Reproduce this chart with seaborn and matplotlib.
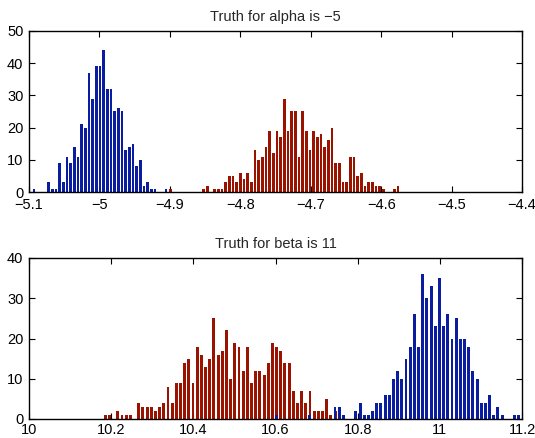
import numpy as np
import pandas as pd
import matplotlib
matplotlib.use("Agg")
import matplotlib.pyplot as plt
import seaborn as sns

# ---------------- data (counts per bin) ----------------
# alpha panel
alpha_blue_counts = [1, 0, 0, 0, 3, 1, 1, 9, 3, 11, 9, 14, 11, 21, 20, 37, 29, 39, 39, 44,
                     32, 32, 25, 26, 25, 13, 14, 15, 8, 10, 2, 3, 1, 1, 0, 0, 1]
alpha_red_counts = [1, 0, 0, 0, 0, 0, 0, 0, 0, 1, 2, 0, 1, 1, 1, 3, 5, 5, 3, 6, 4, 6, 3,
                    13, 10, 11, 14, 19, 12, 19, 17, 29, 19, 25, 25, 11, 25, 19, 13, 19, 17,
                    18, 14, 16, 20, 9, 9, 3, 3, 11, 11, 5, 6, 2, 3, 3, 2, 2, 1, 0, 0, 1, 2]
alpha_blue_start = -5.0929   # centre of first bin
alpha_red_start = -4.8988
alpha_bin_width = 0.005207

# beta panel
beta_blue_counts = [1, 0, 0, 0, 0, 0, 0, 0, 1, 0, 0, 0, 0, 0,
                    3, 3, 1, 0, 0, 2, 4, 1, 1, 2, 4, 4, 6, 6, 10, 12, 10, 15, 18, 26, 18,
                    36, 30, 33, 23, 35, 23, 26, 20, 25, 20, 20, 18, 12, 10, 4, 4, 6, 1, 3,
                    1, 0, 0, 1, 1]
beta_red_counts = [1, 1, 0, 2, 1, 1, 1, 0, 4, 3, 3, 3, 2, 3, 4, 8, 4, 9, 9, 14, 15, 9, 18,
                   16, 13, 15, 25, 16, 17, 22, 10, 19, 18, 12, 18, 9, 12, 12, 11, 14, 19,
                   18, 17, 14, 14, 7, 4, 7, 4, 7, 2, 2, 2, 5, 1, 2, 0, 0, 0, 0, 1]
beta_blue_start = 10.6024
beta_red_start = 10.1857
beta_bin_width = 0.01017

alpha_ticks = [-5.1, -5.0, -4.9, -4.8, -4.7, -4.6, -4.5, -4.4]
alpha_ticklabels = ["\u22125.1", "\u22125", "\u22124.9", "\u22124.8", "\u22124.7",
                    "\u22124.6", "\u22124.5", "\u22124.4"]
alpha_yticks = [0, 10, 20, 30, 40, 50]
beta_ticks = [10.0, 10.2, 10.4, 10.6, 10.8, 11.0, 11.2]
beta_ticklabels = ["10", "10.2", "10.4", "10.6", "10.8", "11", "11.2"]
beta_yticks = [0, 10, 20, 30, 40]

titles = ["Truth for alpha is \u22125", "Truth for beta is 11"]

BLUE = "#0a1ca0"
RED = "#9a1200"

# ---------------- style ----------------
sns.set_style("ticks")
plt.rcParams["font.family"] = ["Liberation Sans", "DejaVu Sans"]
plt.rcParams.update({
    "xtick.direction": "in", "ytick.direction": "in",
    "xtick.top": True, "ytick.right": True,
    "xtick.major.size": 4, "ytick.major.size": 4,
    "xtick.major.width": 0.8, "ytick.major.width": 0.8,
    "axes.linewidth": 1.0, "axes.edgecolor": "black",
    "xtick.color": "black", "ytick.color": "black",
})

W, H = 535, 438
fig = plt.figure(figsize=(W / 100, H / 100), dpi=100)
ax1 = fig.add_axes([29 / W, 1 - 192 / H, 493 / W, 161 / H])
ax2 = fig.add_axes([29 / W, 1 - 419 / H, 493 / W, 161 / H])


def hist_from_counts(ax, counts, start, width, color):
    counts = np.asarray(counts, dtype=float)
    centers = start + width * np.arange(len(counts))
    df = pd.DataFrame({"x": centers, "w": counts})
    lo = float(centers[0] - width / 2)
    hi = float(centers[-1] + width / 2)
    sns.histplot(data=df, x="x", weights="w", binwidth=width, binrange=(lo, hi),
                 shrink=0.7, color=color, alpha=1.0, linewidth=0, ax=ax)


hist_from_counts(ax1, alpha_blue_counts, alpha_blue_start, alpha_bin_width, BLUE)
hist_from_counts(ax1, alpha_red_counts, alpha_red_start, alpha_bin_width, RED)
hist_from_counts(ax2, beta_red_counts, beta_red_start, beta_bin_width, RED)
hist_from_counts(ax2, beta_blue_counts, beta_blue_start, beta_bin_width, BLUE)

for ax, xt, xtl, yt, title, xpad in [
    (ax1, alpha_ticks, alpha_ticklabels, alpha_yticks, titles[0], 4.5),
    (ax2, beta_ticks, beta_ticklabels, beta_yticks, titles[1], 3),
]:
    ax.set_xlim(xt[0], xt[-1])
    ax.set_ylim(yt[0], yt[-1])
    ax.set_xticks(xt)
    ax.set_xticklabels(xtl)
    ax.set_yticks(yt)
    ax.set_yticklabels([str(v) for v in yt])
    ax.set_xlabel("")
    ax.set_ylabel("")
    ax.tick_params(axis="x", labelsize=10.5, pad=xpad)
    ax.tick_params(axis="y", labelsize=10.5, pad=4)
    for s in ax.spines.values():
        s.set_visible(True)
        s.set_color("black")
    ax.set_title(title, fontsize=10.5, pad=7)

fig.savefig("out.png", dpi=100)
